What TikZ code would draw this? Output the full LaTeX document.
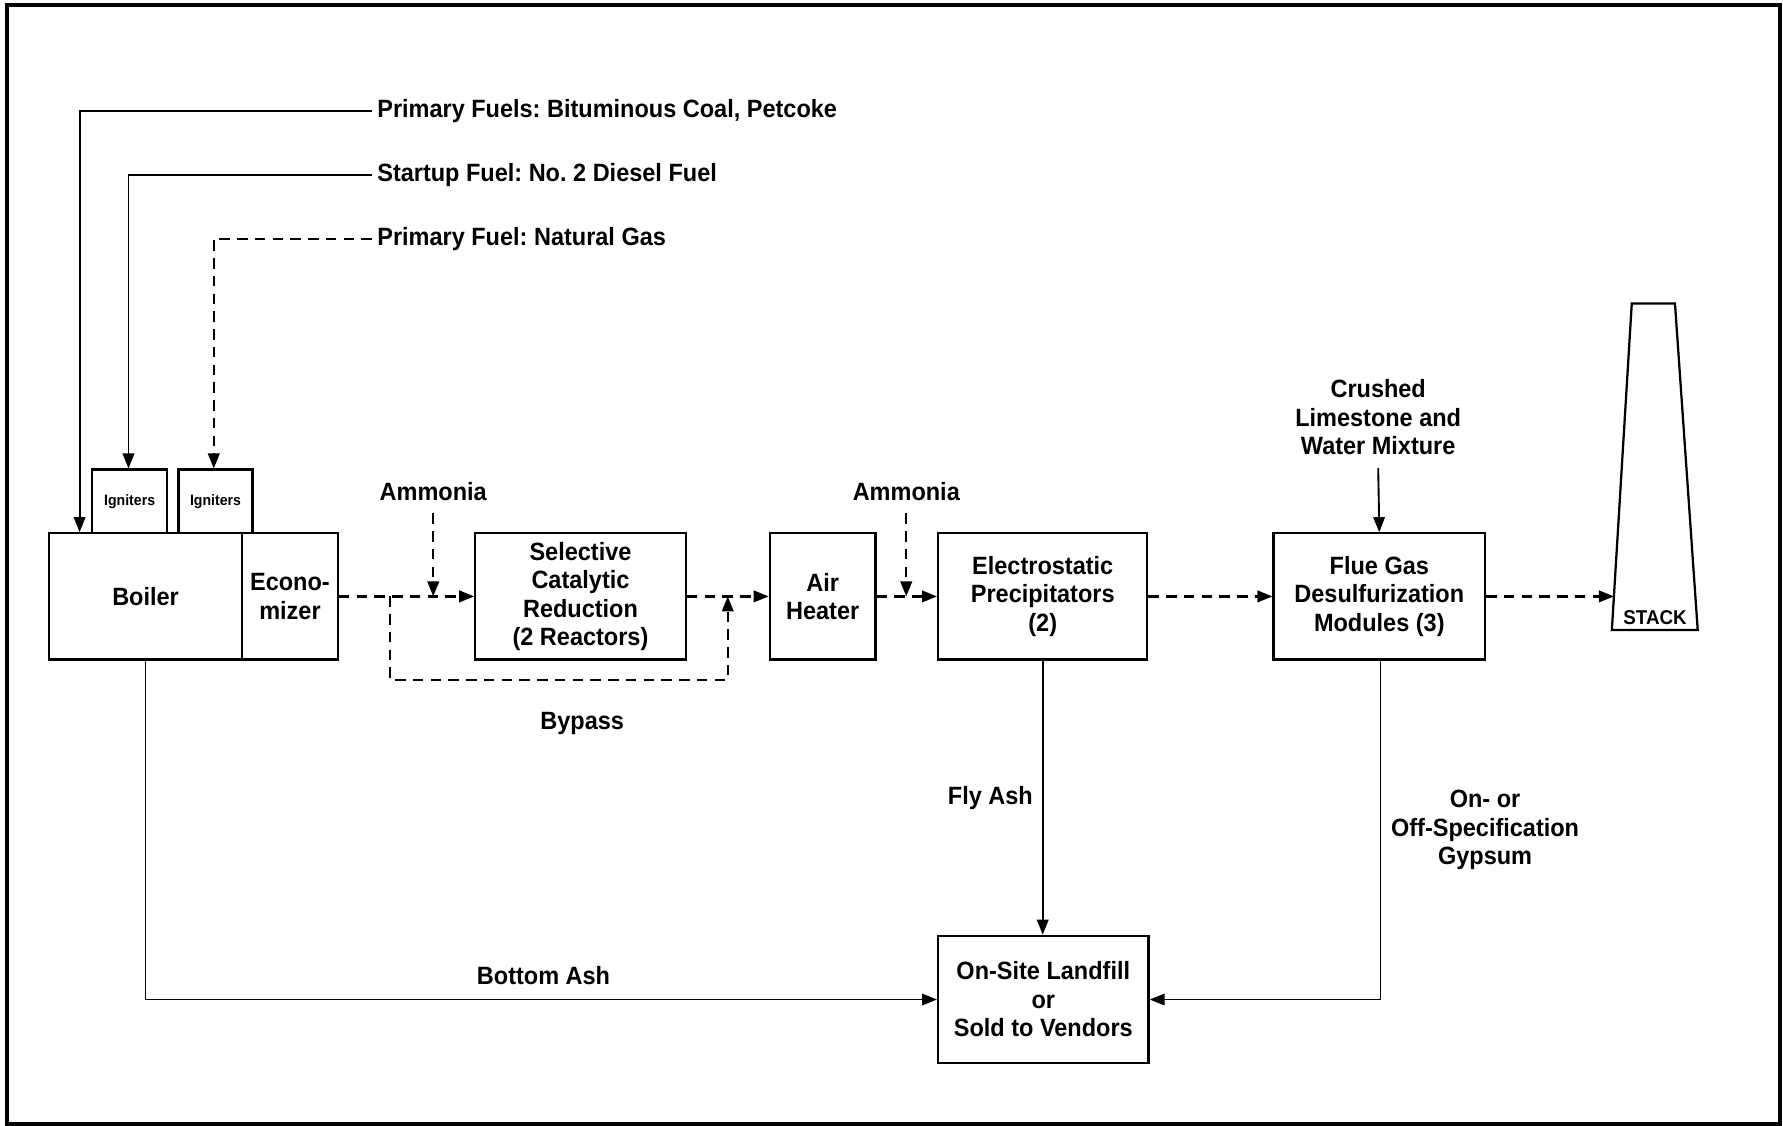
\documentclass[tikz,border=0pt]{standalone}
\usepackage{fontspec}
\setmainfont{Liberation Sans}[FakeStretch=0.94]
\usetikzlibrary{arrows.meta}
\def\PX{0.45484pt}
\tikzset{
  box/.style={draw, line width=0.9pt, align=center, inner sep=1pt},
  lbl/.style={align=center, inner sep=2pt},
  conn/.style={line width=0.75pt},
  flow/.style={conn, -{Triangle[length=6pt,width=4.6pt]}},
  dflow/.style={flow, line width=0.9pt, dash pattern=on 4.2pt off 2.9pt},
  smallfont/.style={font=\bfseries\fontsize{6}{7}\selectfont},
}
\begin{document}
\frenchspacing
\begin{tikzpicture}[x=0.45484pt, y=-0.45484pt, font=\bfseries\fontsize{10}{11.4}\selectfont]
\useasboundingbox (0,0) rectangle (1568,990);
\draw[line width=1.4pt] (6,4.4) rectangle (1565.5,988.5);

% boxes
\node[box, minimum width=170*\PX, minimum height=111*\PX] (boiler) at (128,524.5) {Boiler};
\node[box, minimum width=84*\PX, minimum height=111*\PX] (econ) at (255,524.5) {Econo-\\mizer};
\node[box, smallfont, minimum width=66*\PX, minimum height=56*\PX] (ign1) at (114,441) {Igniters};
\node[box, smallfont, minimum width=65*\PX, minimum height=56*\PX] (ign2) at (189.5,441) {Igniters};
\node[box, minimum width=185*\PX, minimum height=111*\PX] (scr) at (510.5,524.5) {Selective\\Catalytic\\Reduction\\(2 Reactors)};
\node[box, minimum width=93*\PX, minimum height=111*\PX] (air) at (723.5,524.5) {Air\\Heater};
\node[box, minimum width=184*\PX, minimum height=111*\PX] (esp) at (917,524.5) {Electrostatic\\Precipitators\\(2)};
\node[box, minimum width=186*\PX, minimum height=111*\PX] (fgd) at (1213,524.5) {Flue Gas\\Desulfurization\\Modules (3)};
\node[box, minimum width=185*\PX, minimum height=112*\PX] (land) at (917.5,879) {On-Site Landfill\\or\\Sold to Vendors};

% stack
\draw[line width=0.9pt] (1435,267) -- (1473,267) -- (1493,554) -- (1417.5,554) -- cycle;
\node[inner sep=1pt, font=\bfseries\fontsize{8}{9}\selectfont] (stack) at (1455.5,543.5) {STACK};
\coordinate (stackin) at (1419.3,524.5);

% fuel labels
\node[lbl, anchor=west] (pf) at (327,98) {Primary Fuels: Bituminous Coal, Petcoke};
\node[lbl, anchor=west] (sf) at (327,154) {Startup Fuel: No. 2 Diesel Fuel};
\node[lbl, anchor=west] (ng) at (327,210) {Primary Fuel: Natural Gas};

\draw[flow] (pf.west) -| ([xshift=28*\PX]boiler.north west);
\draw[flow] (sf.west) -| ([xshift=-1*\PX]ign1.north);
\draw[dflow] (ng.west) -| ([xshift=-1.5*\PX]ign2.north);

% other labels
\node[lbl] (am1) at (381,432) {Ammonia};
\node[lbl] (am2) at (797,432) {Ammonia};
\node[lbl] (lime) at (1212,367) {Crushed\\Limestone and\\Water Mixture};
\node[lbl] (bypass) at (512,636) {Bypass};
\node[lbl] (flyash) at (871,702) {Fly Ash};
\node[lbl] (gyp) at (1306,730) {On- or\\Off-Specification\\Gypsum};
\node[lbl] (botash) at (478,858) {Bottom Ash};

% junctions on main gas line
\coordinate (bp1) at (343,524.5);
\coordinate (nh1) at (381,524.5);
\coordinate (bp2) at (640,524.5);
\coordinate (nh2) at (797,524.5);

% main gas path
\draw[dflow] (econ.east) -- (scr.west);
\draw[dflow] (bp1) -- ++(0,73.5) -| (bp2);
\draw[dflow] ([yshift=-3pt]am1.south) -- (nh1);
\draw[dflow] (scr.east) -- (air.west);
\draw[dflow] ([yshift=-3pt]am2.south) -- (nh2);
\draw[dflow] (air.east) -- (esp.west);
\draw[dflow] (esp.east) -- (fgd.west);
\draw[dflow] (fgd.east) -- (stackin);
\draw[flow] ([yshift=-3pt]lime.south) -- (fgd.north);

% solids
\draw[flow] (esp.south) -- (esp.south |- land.north);
\draw[flow] ([xshift=1*\PX]fgd.south) |- (land.east);
\draw[flow] (boiler.south) |- (land.west);
\end{tikzpicture}
\end{document}
